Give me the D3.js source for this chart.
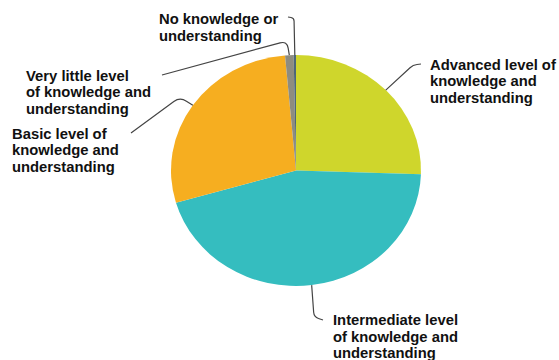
<!DOCTYPE html>
<html>
<head>
<meta charset="utf-8">
<script src="https://cdn.jsdelivr.net/npm/d3@7"></script>
<style>
  html, body { margin: 0; padding: 0; background: #fff; }
  svg { display: block; }
  .lbl { font-family: "Liberation Sans", Arial, sans-serif; font-weight: bold; font-size: 14.8px; fill: #111; }
</style>
</head>
<body>
<svg id="chart" width="559" height="360"></svg>
<script>
// Share of respondents by self-rated level of knowledge and understanding (%)
const categories = [
  "Advanced level of knowledge and understanding",
  "Intermediate level of knowledge and understanding",
  "Basic level of knowledge and understanding",
  "Very little level of knowledge and understanding",
  "No knowledge or understanding"
];
const values = [25.5, 45.0, 28.1, 1.1, 0.3];
const colors = ["#cfd62c", "#35bdbf", "#f6ae20", "#8e8c7f", "#4d6677"];

// Label text, broken into lines as printed
const labelLines = [
  ["Advanced level of", "knowledge and", "understanding"],
  ["Intermediate level", "of knowledge and", "understanding"],
  ["Basic level of", "knowledge and", "understanding"],
  ["Very little level", "of knowledge and", "understanding"],
  ["No knowledge or", "understanding"]
];
// Label placement: text origin (first baseline) and leader-line elbow / end
const labelLayout = [
  { x: 430, y: 69.5,  elbow: [413, 65],  end: [421, 64] },
  { x: 333, y: 325,   elbow: [314, 317], end: [323, 320] },
  { x: 12,  y: 138.5, elbow: [180, 97],  end: [131, 133] },
  { x: 26,  y: 80.5,  elbow: [287, 41],  end: [162, 75] },
  { x: 159, y: 24,    elbow: [294, 18],  end: [288, 17] }
];

const cx = 296, cy = 170.5, rx = 125, ry = 115.5;
const svg = d3.select("#chart");

const pie = d3.pie().sort(null).value(d => d).startAngle(0).endAngle(2 * Math.PI);
const arcs = pie(values);
const arc = d3.arc().innerRadius(0).outerRadius(ry);

// Pie drawn on a circle then stretched horizontally into an ellipse
const g = svg.append("g").attr("transform", `translate(${cx},${cy}) scale(${rx / ry},1)`);
g.selectAll("path.slice")
  .data(arcs)
  .join("path")
  .attr("class", "slice")
  .attr("d", arc)
  .attr("fill", (d, i) => colors[i]);

// Point on the ellipse edge at a slice's middle angle
function edgePoint(d) {
  const a = (d.startAngle + d.endAngle) / 2;
  return [cx + rx * Math.sin(a), cy - ry * Math.cos(a)];
}

// Leader line with a rounded elbow
function leaderPath(a, b, c) {
  const p = d3.path();
  const d1 = Math.hypot(b[0] - a[0], b[1] - a[1]);
  const d2 = Math.hypot(c[0] - b[0], c[1] - b[1]);
  const r = Math.min(8, d1 / 2, d2 / 2);
  const p1 = [b[0] + (a[0] - b[0]) * r / d1, b[1] + (a[1] - b[1]) * r / d1];
  const p2 = [b[0] + (c[0] - b[0]) * r / d2, b[1] + (c[1] - b[1]) * r / d2];
  p.moveTo(a[0], a[1]);
  p.lineTo(p1[0], p1[1]);
  p.quadraticCurveTo(b[0], b[1], p2[0], p2[1]);
  p.lineTo(c[0], c[1]);
  return p.toString();
}

svg.selectAll("path.leader")
  .data(arcs)
  .join("path")
  .attr("class", "leader")
  .attr("d", (d, i) => leaderPath(edgePoint(d), labelLayout[i].elbow, labelLayout[i].end))
  .attr("fill", "none")
  .attr("stroke", "#444")
  .attr("stroke-width", 1.2);

const lineHeight = 16.5;
const labels = svg.selectAll("text.lbl")
  .data(categories)
  .join("text")
  .attr("class", "lbl")
  .attr("x", (d, i) => labelLayout[i].x)
  .attr("y", (d, i) => labelLayout[i].y);
labels.each(function (d, i) {
  d3.select(this).selectAll("tspan")
    .data(labelLines[i])
    .join("tspan")
    .attr("x", labelLayout[i].x)
    .attr("dy", (t, j) => j === 0 ? 0 : lineHeight)
    .text(t => t);
});
</script>
</body>
</html>
